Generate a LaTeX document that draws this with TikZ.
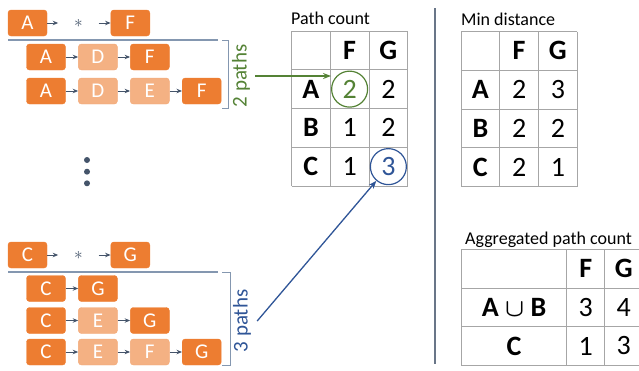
\documentclass[tikz,border=0pt]{standalone}
\usepackage{fontspec}
\setmainfont{Carlito}
\usetikzlibrary{positioning,arrows.meta}

\definecolor{darkorange}{HTML}{ED7D31}
\definecolor{lightorange}{HTML}{F4B183}
\definecolor{slate}{HTML}{44546A}
\definecolor{rulegray}{HTML}{8497B0}
\definecolor{gridgray}{HTML}{A6A6A6}
\definecolor{pathgreen}{HTML}{548235}
\definecolor{pathblue}{HTML}{2F5597}

\newcommand{\boxfont}{\fontsize{21}{21}\selectfont}
\newcommand{\cellfont}{\fontsize{28}{28}\selectfont}
\newcommand{\titlefont}{\fontsize{18}{18}\selectfont}

\tikzset{
    box/.style={rectangle, rounded corners=3pt, fill=darkorange, draw=darkorange,
        text=white, minimum width=39pt, minimum height=26pt, inner sep=0pt, font=\boxfont},
    lbox/.style={box, fill=lightorange, draw=lightorange!85!darkorange},
    wild/.style={minimum width=40pt, inner sep=0pt, text=slate, font=\fontsize{17}{17}\selectfont},
    link/.style={-{Stealth[length=5.5pt,width=4.5pt]}, slate, line width=1pt},
    rule/.style={rulegray, line width=1.4pt},
    brace/.style={rulegray, line width=1pt},
    gridline/.style={gridgray, line width=0.8pt},
    title/.style={anchor=base west, inner sep=0pt, font=\titlefont},
    head/.style={inner sep=0pt, font=\cellfont\bfseries},
    num/.style={inner sep=0pt, font=\cellfont},
    ring/.style={circle, draw=#1, text=#1, line width=1.2pt, minimum size=36pt,
        inner sep=0pt, font=\cellfont},
    pathlabel/.style={rotate=90, inner sep=0pt, text=#1, font=\fontsize{21}{21}\selectfont},
    hit/.style={-{Stealth[length=8pt,width=6pt]}, #1, line width=1.3pt}
}

\begin{document}
\begin{tikzpicture}[x=1pt, y=-1pt]
    \useasboundingbox (0,0) rectangle (639,370);

    \def \cell {38.75}

    % paths from A to F
    \node[box] (ta1) at (27.5,23) {A};
    \node[wild, right=11pt of ta1] (tw1) {$\ast$};
    \node[box, right=12pt of tw1] (tf1) {F};
    \draw[link] (ta1) -- (tw1);
    \draw[link] (tw1) -- (tf1);
    \draw[rule] (8,40) -- (218,40);
    \draw[brace] (222,40) -- (228,40) -- (228,108) -- (222,108);

    \node[box] (ta2) at (46,57) {A};
    \node[lbox, right=12.5pt of ta2] (td2) {D};
    \node[box, right=12.5pt of td2] (tf2) {F};
    \draw[link] (ta2) -- (td2);
    \draw[link] (td2) -- (tf2);

    \node[box] (ta3) at (46,91) {A};
    \node[lbox, right=12.5pt of ta3] (td3) {D};
    \node[lbox, right=12.5pt of td3] (te3) {E};
    \node[box, right=12.5pt of te3] (tf3) {F};
    \draw[link] (ta3) -- (td3);
    \draw[link] (td3) -- (te3);
    \draw[link] (te3) -- (tf3);

    \node[pathlabel=pathgreen] (twopaths) at (241,76) {2 paths};

    % dots
    \foreach \y in {160,171.7,183.3}
        \fill[slate] (87,\y) circle (3pt);

    % paths from C to G
    \node[box] (bc1) at (27.5,255) {C};
    \node[wild, right=11pt of bc1] (bw1) {$\ast$};
    \node[box, right=12pt of bw1] (bg1) {G};
    \draw[link] (bc1) -- (bw1);
    \draw[link] (bw1) -- (bg1);
    \draw[rule] (8,272) -- (218,272);
    \draw[brace] (222,272) -- (230,272) -- (230,365) -- (222,365);

    \node[box] (bc2) at (46,288.5) {C};
    \node[box, right=12.5pt of bc2] (bg2) {G};
    \draw[link] (bc2) -- (bg2);

    \node[box] (bc3) at (46,320.5) {C};
    \node[lbox, right=12.5pt of bc3] (be3) {E};
    \node[box, right=12.5pt of be3] (bg3) {G};
    \draw[link] (bc3) -- (be3);
    \draw[link] (be3) -- (bg3);

    \node[box] (bc4) at (46,352) {C};
    \node[lbox, right=12.5pt of bc4] (be4) {E};
    \node[lbox, right=12.5pt of be4] (bf4) {F};
    \node[box, right=12.5pt of bf4] (bg4) {G};
    \draw[link] (bc4) -- (be4);
    \draw[link] (be4) -- (bf4);
    \draw[link] (bf4) -- (bg4);

    \node[pathlabel=pathblue] (threepaths) at (242,321) {3 paths};

    % path count
    \def \px {291.5}
    \def \py {31}
    \node[title] (pc-title) at (291,24) {Path count};
    \foreach \i in {0,...,3}
        \draw[gridline] (\px+\i*\cell,\py) -- ++(0,4*\cell);
    \foreach \j in {0,...,4}
        \draw[gridline] (\px,\py+\j*\cell) -- ++(3*\cell,0);
    \foreach \lbl [count=\c] in {F,G}
        \node[head] at (\px+\c*\cell+0.5*\cell,\py+0.5*\cell) {\lbl};
    \foreach \lbl [count=\r] in {A,B,C}
        \node[head] at (\px+0.5*\cell,\py+\r*\cell+0.5*\cell) {\lbl};
    \node[ring=pathgreen] (cnt-af) at (\px+1.5*\cell,\py+1.5*\cell) {2};
    \node[num] at (\px+2.5*\cell,\py+1.5*\cell) {2};
    \node[num] at (\px+1.5*\cell,\py+2.5*\cell) {1};
    \node[num] at (\px+2.5*\cell,\py+2.5*\cell) {2};
    \node[num] at (\px+1.5*\cell,\py+3.5*\cell) {1};
    \node[ring=pathblue] (cnt-cg) at (\px+2.5*\cell,\py+3.5*\cell) {3};

    \draw[hit=pathgreen] ([xshift=5pt]twopaths.south) -- (twopaths.south -| cnt-af.west);
    \draw[hit=pathblue] ([xshift=6pt]threepaths.south) -- (cnt-cg);

    % separator
    \draw[slate!80, line width=1.2pt] (435,8) -- (435,364);

    % min distance
    \def \mx {461}
    \def \my {31.5}
    \node[title] (md-title) at (461,25) {Min distance};
    \foreach \i in {0,...,3}
        \draw[gridline] (\mx+\i*\cell,\my) -- ++(0,4*\cell);
    \foreach \j in {0,...,4}
        \draw[gridline] (\mx,\my+\j*\cell) -- ++(3*\cell,0);
    \foreach \lbl [count=\c] in {F,G}
        \node[head] at (\mx+\c*\cell+0.5*\cell,\my+0.5*\cell) {\lbl};
    \foreach \lbl/\f/\g [count=\r] in {A/2/3,B/2/2,C/2/1}{
        \node[head] at (\mx+0.5*\cell,\my+\r*\cell+0.5*\cell) {\lbl};
        \node[num] at (\mx+1.5*\cell,\my+\r*\cell+0.5*\cell) {\f};
        \node[num] at (\mx+2.5*\cell,\my+\r*\cell+0.5*\cell) {\g};
    }

    % aggregated path count
    \node[title] (ag-title) at (465,244) {Aggregated path count};
    \foreach \x in {461,566.7,604.7,643}
        \draw[gridline] (\x,249.3) -- (\x,365.3);
    \foreach \y in {249.3,288.3,326.7,365.3}
        \draw[gridline] (461,\y) -- (643,\y);
    \node[head] at (585.7,268.8) {F};
    \node[head] at (623.8,268.8) {G};
    \node[head] at (514,307.5) {A {\boldmath$\cup$} B};
    \node[num] at (585.7,307.5) {3};
    \node[num] at (623.8,307.5) {4};
    \node[head] at (514,346) {C};
    \node[num] at (585.7,346) {1};
    \node[num] at (623.8,346) {3};
\end{tikzpicture}
\end{document}
